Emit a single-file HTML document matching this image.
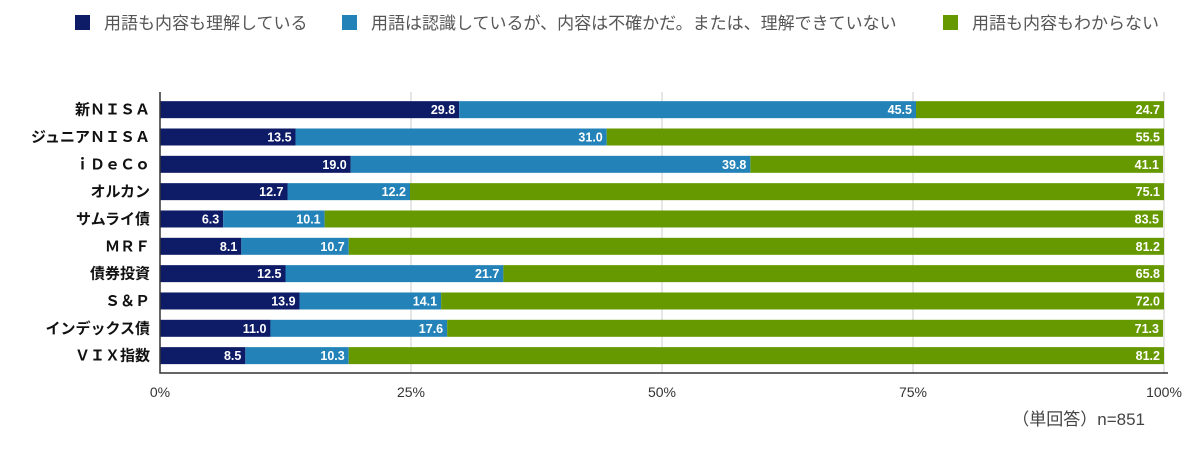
<!DOCTYPE html>
<html><head><meta charset="utf-8"><style>
body{margin:0;background:#fff;width:1202px;height:446px;overflow:hidden;font-family:"Liberation Sans","Noto Sans CJK JP",sans-serif}
svg text{font-family:"Liberation Sans","Noto Sans CJK JP",sans-serif}
</style></head><body>
<svg id="c" width="1202" height="446">
<g id="legend">
<g><rect x="75" y="15" width="15" height="15" fill="#0e1b66"/><text x="104" y="29" font-size="17" fill="#555">用語も内容も理解している</text></g>
<g><rect x="342" y="15" width="15" height="15" fill="#2383b8"/><text x="371" y="29" font-size="17" fill="#555">用語は認識しているが、内容は不確かだ。または、理解できていない</text></g>
<g><rect x="943" y="15" width="15" height="15" fill="#669900"/><text x="972" y="29" font-size="17" fill="#555">用語も内容もわからない</text></g>
</g>
<g id="grid"></g>
<g id="bars"></g>
<g id="axes"></g>
<text x="1145" y="425" font-size="17" fill="#444" text-anchor="end">（単回答）n=851</text>
</svg>
<script>
const categories=["新ＮＩＳＡ","ジュニアＮＩＳＡ","ｉＤｅＣｏ","オルカン","サムライ債","ＭＲＦ","債券投資","Ｓ＆Ｐ","インデックス債","ＶＩＸ指数"];
const knowBoth=[29.8,13.5,19.0,12.7,6.3,8.1,12.5,13.9,11.0,8.5];
const knowTerm=[45.5,31.0,39.8,12.2,10.1,10.7,21.7,14.1,17.6,10.3];
const unknown=[24.7,55.5,41.1,75.1,83.5,81.2,65.8,72.0,71.3,81.2];
const ticks=[0,25,50,75,100];
const colors=["#0e1b66","#2383b8","#669900"];
const NS="http://www.w3.org/2000/svg";
const x0=160,x1=1164,top0=96,band=27.33,bh=17,axisBottom=373;
const xs=v=>x0+(x1-x0)*v/100;
const yc=i=>top0+band*i+band/2;
function mk(t,a,p){const e=document.createElementNS(NS,t);for(const k in a)e.setAttribute(k,a[k]);p.appendChild(e);return e;}
const grid=document.getElementById('grid'),bars=document.getElementById('bars'),axes=document.getElementById('axes');
ticks.forEach(t=>{
 if(t>0){const l=mk('line',{x1:xs(t),x2:xs(t),y1:92,y2:axisBottom,stroke:'#ccc','stroke-width':1},grid);
 
 }
 const tx=mk('text',{x:xs(t),y:397,'font-size':14,fill:'#333','text-anchor':'middle'},axes);
 tx.textContent=t+'%';
 
 
});
const series=[knowBoth,knowTerm,unknown];
categories.forEach((c,i)=>{
 const lb=mk('text',{x:150,y:yc(i)+5,'font-size':15,'font-weight':'bold',fill:'#111','text-anchor':'end'},axes);
 lb.textContent=c;
 
 
 let acc=0;
 series.forEach((s,k)=>{
  const v=s[i];const a=xs(acc),b=xs(Math.min(100,acc+v));
  const r=mk('rect',{x:a,y:yc(i)-bh/2,width:Math.max(0,b-a),height:bh,fill:colors[k]},bars);
  
  
  const t=mk('text',{x:b-4,y:yc(i)+4.5,'font-size':12.5,'font-weight':'bold',fill:'#fff','text-anchor':'end'},bars);
  t.textContent=v.toFixed(1);
  
  
  acc+=v;
 });
});
const ax=mk('path',{d:`M${x0} 92V${axisBottom}H${x1+4}`,stroke:'#333','stroke-width':1.5,fill:'none'},axes);


</script>
</body></html>
